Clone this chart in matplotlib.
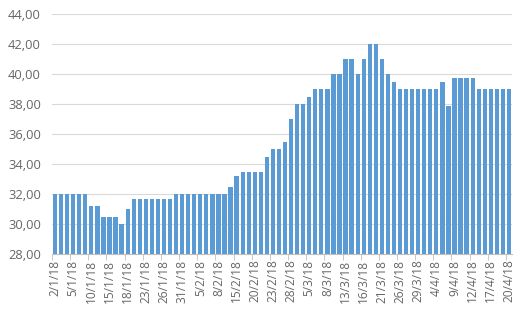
import matplotlib.pyplot as plt
import numpy as np

plt.rcParams["font.family"] = ["Open Sans", "DejaVu Sans"]

# business days (Brazil calendar, carnival and good friday skipped)
dates = [
    "2/1/18", "3/1/18", "4/1/18", "5/1/18", "8/1/18", "9/1/18",
    "10/1/18", "11/1/18", "12/1/18", "15/1/18", "16/1/18", "17/1/18",
    "18/1/18", "19/1/18", "22/1/18", "23/1/18", "24/1/18", "25/1/18",
    "26/1/18", "29/1/18", "30/1/18", "31/1/18", "1/2/18", "2/2/18",
    "5/2/18", "6/2/18", "7/2/18", "8/2/18", "9/2/18", "14/2/18",
    "15/2/18", "16/2/18", "19/2/18", "20/2/18", "21/2/18", "22/2/18",
    "23/2/18", "26/2/18", "27/2/18", "28/2/18", "1/3/18", "2/3/18",
    "5/3/18", "6/3/18", "7/3/18", "8/3/18", "9/3/18", "12/3/18",
    "13/3/18", "14/3/18", "15/3/18", "16/3/18", "19/3/18", "20/3/18",
    "21/3/18", "22/3/18", "23/3/18", "26/3/18", "27/3/18", "28/3/18",
    "29/3/18", "2/4/18", "3/4/18", "4/4/18", "5/4/18", "6/4/18",
    "9/4/18", "10/4/18", "11/4/18", "12/4/18", "13/4/18", "16/4/18",
    "17/4/18", "18/4/18", "19/4/18", "20/4/18",
]

values = [
    32.0, 32.0, 32.0, 32.0, 32.0, 32.0,
    31.2, 31.2, 30.5, 30.5, 30.5, 30.0,
    31.0, 31.7, 31.7, 31.7, 31.7, 31.7,
    31.7, 31.7, 32.0, 32.0, 32.0, 32.0,
    32.0, 32.0, 32.0, 32.0, 32.0, 32.5,
    33.2, 33.5, 33.5, 33.5, 33.5, 34.5,
    35.0, 35.0, 35.5, 37.0, 38.0, 38.0,
    38.5, 39.0, 39.0, 39.0, 40.0, 40.0,
    41.0, 41.0, 40.0, 41.0, 42.0, 42.0,
    41.0, 40.0, 39.5, 39.0, 39.0, 39.0,
    39.0, 39.0, 39.0, 39.0, 39.5, 37.9,
    39.7, 39.7, 39.7, 39.7, 39.0, 39.0,
    39.0, 39.0, 39.0, 39.0,
]

y_ticks = np.arange(28, 44.1, 2)

fig = plt.figure(figsize=(5.21, 3.16), dpi=100)
ax = fig.add_axes([52 / 521, 1 - 254 / 316, 460 / 521, 240 / 316])

x = np.arange(len(values))
ax.bar(x, values, width=0.7, color="#5B9BD5", zorder=2)

ax.set_ylim(28, 44)
ax.set_xlim(-0.5, len(values) - 0.5)
ax.set_yticks(y_ticks)
ax.set_yticklabels([f"{v:.2f}".replace(".", ",") for v in y_ticks])
ax.yaxis.grid(True, color="#D9D9D9", linewidth=0.8, zorder=0)

lab_idx = list(range(0, len(dates), 3))
ax.set_xticks(lab_idx)
ax.set_xticklabels([dates[i] for i in lab_idx], rotation=90)
ax.set_xticks([i - 0.5 for i in lab_idx], minor=True)

for s in ["top", "right", "left"]:
    ax.spines[s].set_visible(False)
ax.spines["bottom"].set_color("#BFBFBF")

ax.tick_params(axis="y", length=0, labelsize=9.3, colors="#666666", pad=8)
ax.tick_params(axis="x", which="major", length=0, labelsize=8.6, colors="#666666", pad=4)
ax.tick_params(axis="x", which="minor", length=4, color="#BFBFBF")

fig.savefig("out.png", dpi=100)
